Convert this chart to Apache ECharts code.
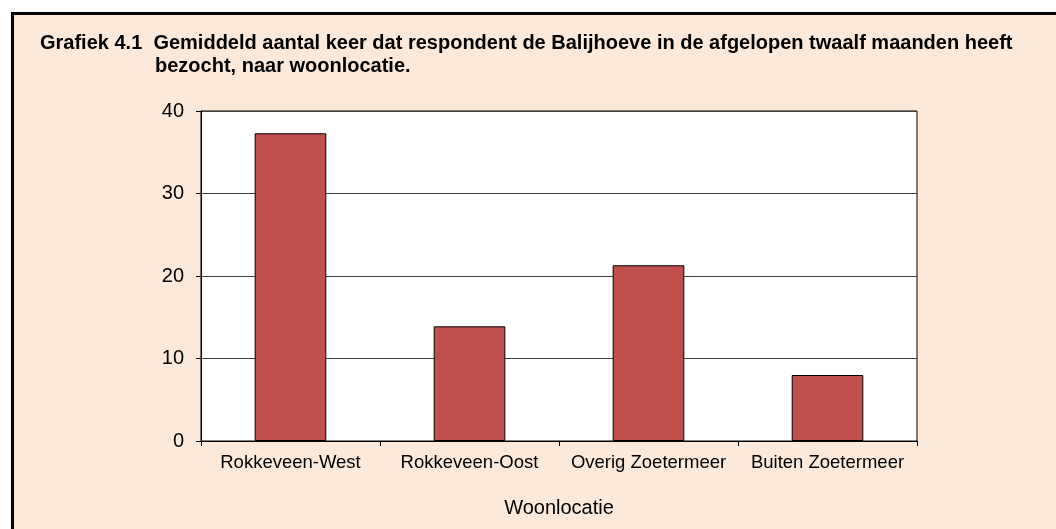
<!DOCTYPE html>
<html>
<head>
<meta charset="utf-8">
<script src="https://cdn.jsdelivr.net/npm/echarts@6/dist/echarts.min.js"></script>
<style>
  html, body { margin: 0; padding: 0; background: #ffffff; overflow: hidden; }
  /* peach frame, only left and top edges visible */
  .frame {
    position: absolute; left: 11px; top: 12px; width: 1100px; height: 600px;
    background: #fde9d9; border-left: 3px solid #000; border-top: 3px solid #000;
  }
  #chart { position: absolute; left: 0; top: 0; width: 1056px; height: 529px; }
</style>
</head>
<body>
<div class="frame"></div>
<div id="chart"></div>
<script>
// gegevens
const categories = ['Rokkeveen-West', 'Rokkeveen-Oost', 'Overig Zoetermeer', 'Buiten Zoetermeer'];
const visits = [37.3, 13.9, 21.3, 8.0];
const yTicks = { min: 0, max: 40, interval: 10 };

const font = 'Liberation Sans, Arial, sans-serif';

const chart = echarts.init(document.getElementById('chart'));

const option = {
  backgroundColor: 'transparent',
  title: [
    {
      text: 'Grafiek 4.1  Gemiddeld aantal keer dat respondent de Balijhoeve in de afgelopen twaalf maanden heeft',
      left: 40, top: 33, padding: 0,
      textStyle: { fontFamily: font, fontSize: 20, fontWeight: 'bold', color: '#000' }
    },
    {
      text: 'bezocht, naar woonlocatie.',
      left: 155, top: 56, padding: 0,
      textStyle: { fontFamily: font, fontSize: 20, fontWeight: 'bold', color: '#000' }
    }
  ],
  grid: {
    left: 201, top: 111, right: 139, bottom: 88,
    show: true, backgroundColor: '#ffffff', borderColor: '#000', borderWidth: 1
  },
  xAxis: {
    type: 'category',
    data: categories,
    name: 'Woonlocatie',
    nameLocation: 'middle',
    nameGap: 57,
    nameTextStyle: { fontFamily: font, fontSize: 20, color: '#000' },
    axisLine: { lineStyle: { color: '#000', width: 1 } },
    axisTick: { show: true, length: 5, lineStyle: { color: '#000' } },
    axisLabel: { fontFamily: font, fontSize: 18.5, color: '#000', margin: 12, interval: 0 }
  },
  yAxis: {
    type: 'value',
    min: yTicks.min, max: yTicks.max, interval: yTicks.interval,
    axisLine: { show: true, lineStyle: { color: '#000', width: 1 } },
    axisTick: { show: true, length: 5, lineStyle: { color: '#000' } },
    axisLabel: { fontFamily: font, fontSize: 20, color: '#000', margin: 17 },
    splitLine: { show: true, lineStyle: { color: '#404040', width: 1 } }
  },
  series: [{
    type: 'bar',
    data: visits,
    barWidth: '40%',
    itemStyle: { color: '#c0504d', borderColor: '#000', borderWidth: 1 },
    animation: false
  }],
  animation: false
};

chart.setOption(option);
</script>
</body>
</html>
